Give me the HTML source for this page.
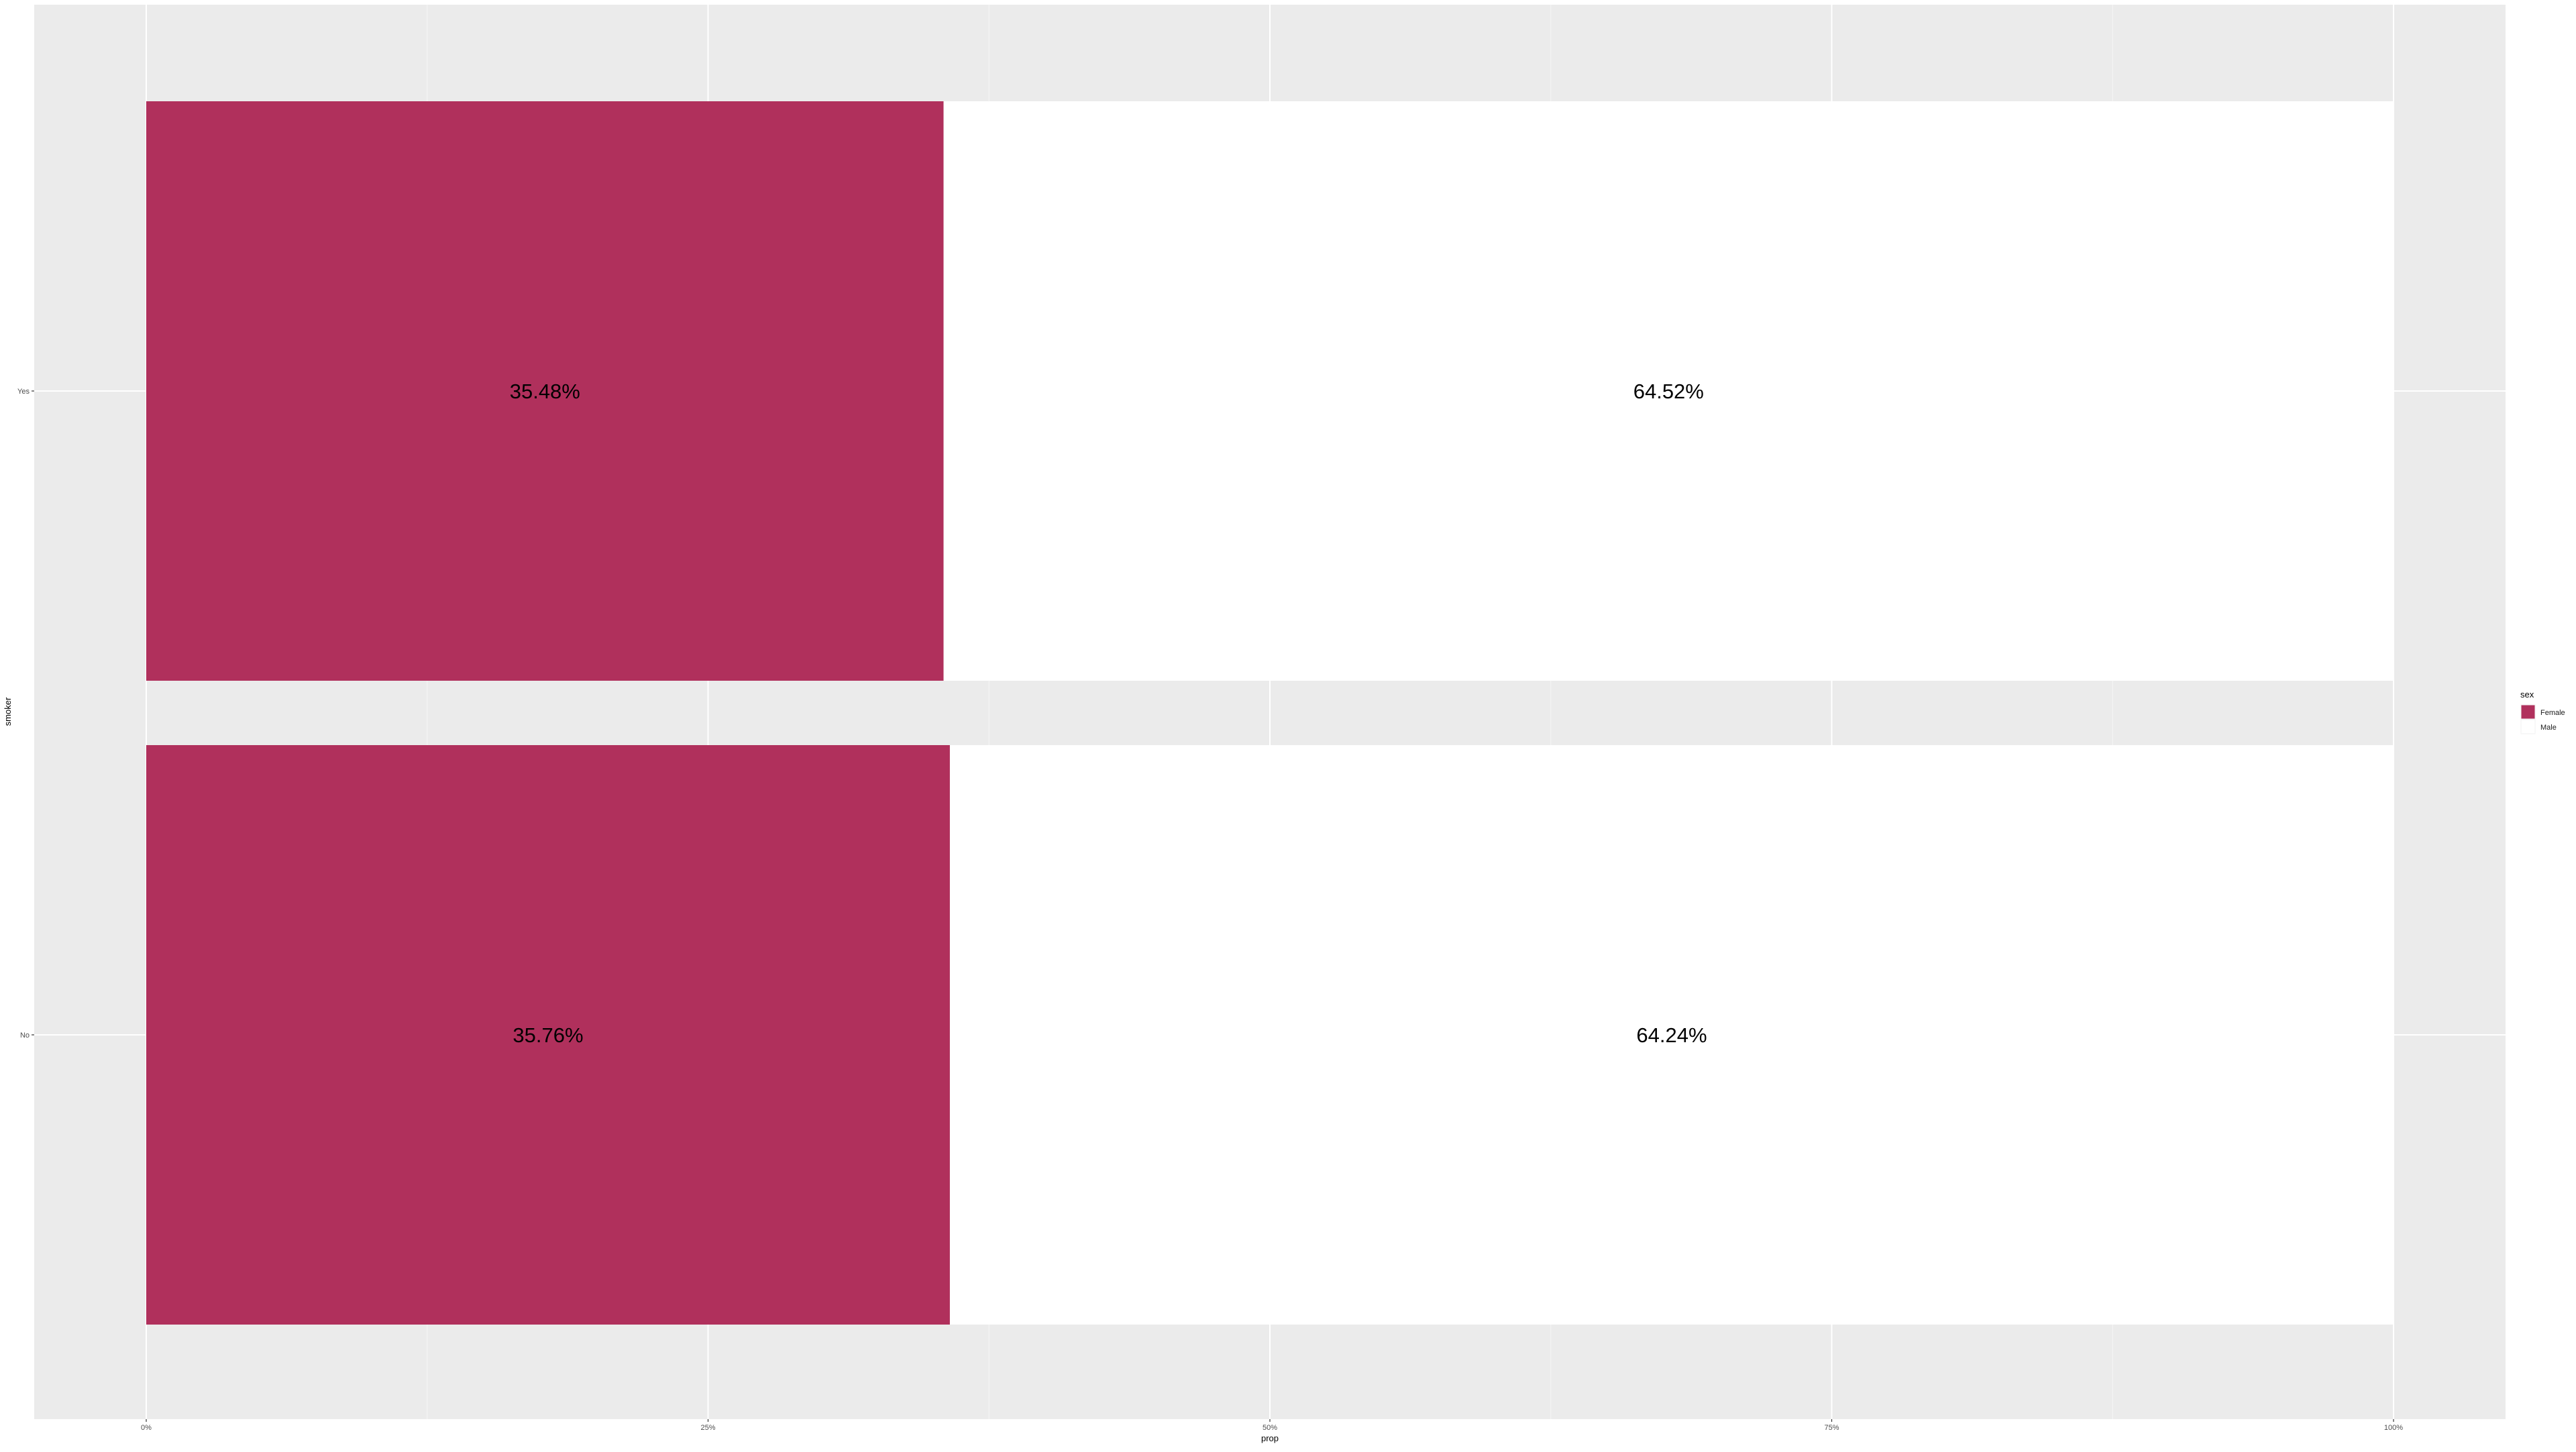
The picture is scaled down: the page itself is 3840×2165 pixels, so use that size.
<!DOCTYPE html>
<html><head><meta charset="utf-8"><style>
body{margin:0;background:#fff;}
svg text{font-family:"Liberation Sans",sans-serif;}
</style></head><body>
<svg id="chart" width="3840" height="2160" xmlns="http://www.w3.org/2000/svg">
<rect x="0" y="0" width="3840" height="2160" fill="#fff"/>
<rect x="51" y="7" width="3684" height="2109" fill="#ebebeb"/>
<g id="grid"></g><g id="bars"></g><g id="labels"></g><g id="axes"></g>
<text x="1893" y="2149" font-size="13" text-anchor="middle" fill="#000">prop</text>
<text transform="translate(16,1061) rotate(-90)" font-size="13" text-anchor="middle" fill="#000">smoker</text>
<g>
<text x="3757" y="1040" font-size="13" fill="#000">sex</text>
<rect x="3758" y="1051" width="21" height="21" fill="#b0305c" stroke="#f2f2f2" stroke-width="1"/>
<rect x="3758" y="1073" width="21" height="21" fill="#fff" stroke="#f2f2f2" stroke-width="1"/>
<text x="3787" y="1066" font-size="11" fill="#1a1a1a">Female</text>
<text x="3787" y="1088" font-size="11" fill="#1a1a1a">Male</text>
</g>
</svg>
<script>
const categories = ["Yes","No"];
const femaleValues = [35.48, 35.76];
const maleValues = [64.52, 64.24];
const xTicks = [0,25,50,75,100];
const xTickLabels = ["0%","25%","50%","75%","100%"];
const NS="http://www.w3.org/2000/svg";
const X=v=>218+v*33.5;
const Y=i=>583+i*960;
const half=432;
function mk(tag,attrs,parent){const e=document.createElementNS(NS,tag);for(const k in attrs)e.setAttribute(k,attrs[k]);document.getElementById(parent).appendChild(e);return e;}
for(let i=0;i<xTicks.length-1;i++){const m=(xTicks[i]+xTicks[i+1])/2;
 const l=mk('line',{x1:X(m),x2:X(m),y1:7,y2:2116,stroke:'#f5f5f5','stroke-width':1.1},'grid');
 
 }
xTicks.forEach((t,i)=>{
 const l=mk('line',{x1:X(t),x2:X(t),y1:7,y2:2116,stroke:'#fff','stroke-width':2},'grid');
 
 
 const tk=mk('line',{x1:X(t),x2:X(t),y1:2116,y2:2120,stroke:'#333','stroke-width':1.2},'axes');
 
 
 const tx=mk('text',{x:X(t),y:2132,'font-size':11,'text-anchor':'middle',fill:'#4d4d4d'},'axes');
 tx.textContent=xTickLabels[i];
 
 
});
categories.forEach((c,i)=>{
 const y=Y(i);
 const g=mk('line',{x1:51,x2:3735,y1:y,y2:y,stroke:'#fff','stroke-width':2},'grid');
 
 
 const tk=mk('line',{x1:47,x2:51,y1:y,y2:y,stroke:'#333','stroke-width':1.2},'axes');
 
 
 const tl=mk('text',{x:44,y:y+4,'font-size':11,'text-anchor':'end',fill:'#4d4d4d'},'axes');
 tl.textContent=c;
 
 
 const f=femaleValues[i], m=maleValues[i];
 const bf=mk('rect',{x:X(0),y:y-half,width:X(f)-X(0),height:2*half,fill:'#b0305c'},'bars');
 
 
 const bm=mk('rect',{x:X(f),y:y-half,width:X(f+m)-X(f),height:2*half,fill:'#fff'},'bars');
 
 
 const lf=mk('text',{x:(X(0)+X(f))/2,y:y+11,'font-size':31,'text-anchor':'middle',fill:'#000'},'labels');
 lf.textContent=f.toFixed(2)+'%';
 
 
 const lm=mk('text',{x:(X(f)+X(f+m))/2,y:y+11,'font-size':31,'text-anchor':'middle',fill:'#000'},'labels');
 lm.textContent=m.toFixed(2)+'%';
 
 
});
</script>
</body></html>
